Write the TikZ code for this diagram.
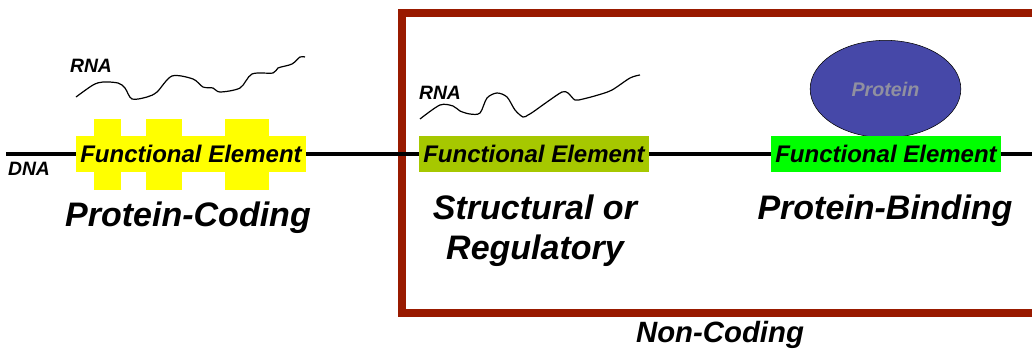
\documentclass[tikz,border=0pt]{standalone}
\usepackage{fontspec}
\setmainfont{Liberation Sans}
\usepackage{tikz}
\usetikzlibrary{shapes.geometric}
\definecolor{elemyellow}{HTML}{FFFF00}
\definecolor{elemlime}{HTML}{A6C800}
\definecolor{elemgreen}{HTML}{00FF00}
\definecolor{framered}{HTML}{991A00}
\definecolor{protblue}{HTML}{4648A8}
\definecolor{protgray}{HTML}{9090A0}

\begin{document}
\begin{tikzpicture}[x=0.75pt, y=-0.75pt,
    elem/.style={fill=#1, minimum width=172.5pt, minimum height=27pt, inner sep=0pt,
                 font=\bfseries\itshape\fontsize{18}{20}\selectfont},
    tag/.style={font=\bfseries\itshape\fontsize{14.5}{16}\selectfont, inner sep=0pt},
    title/.style={font=\bfseries\itshape\fontsize{25.5}{30}\selectfont, align=center, inner sep=0pt},
    rna/.style={line width=0.9pt, line join=round},
]
    \useasboundingbox (0,0) rectangle (1032,351);

    % Non-coding frame
    \draw[framered, line width=6pt] (402,13) rectangle (1060,313);

    % DNA strand
    \coordinate (dnaL) at (6,154);
    \coordinate (dnaR) at (1040,154);
    \draw[line width=3pt] (dnaL) -- (dnaR);
    \node[tag] (dna) at (29,169) {DNA};

    % Protein-coding
    \foreach \a/\b in {94/121, 146/182, 225/269}
        \fill[elemyellow] (\a,119) rectangle (\b,190);
    \node[elem=elemyellow] (coding) at (191,154) {Functional Element};
    \node[tag] (rnaL) at (91,66) {RNA};
    \draw[rna] plot[smooth, tension=0.5] coordinates {(76,97) (93,85) (103,82) (118,83) (125,88)
        (132,99) (147,97) (157,92) (172,76) (193,79) (203,87) (213,88) (220,92) (240,88)
        (252,74) (273,73) (278,68) (292,64) (300,57) (305,57)};
    \node[title] (codingtxt) at (188,218) {Protein-Coding};

    % Structural or regulatory
    \node[elem=elemlime] (struct) at (534,154) {Functional Element};
    \node[tag] (rnaM) at (440,93) {RNA};
    \draw[rna] plot[smooth, tension=0.5] coordinates {(420,119) (440,105) (453,106) (460,111)
        (470,114) (480,113) (487,98) (497,93) (507,97) (515,110) (523,117) (528,115)
        (533,112) (547,102) (562,92) (568,93) (575,100) (583,99) (598,95) (612,90)
        (630,78) (640,75)};
    \node[title] (structtxt) at (535,231) {Structural or\\Regulatory};

    % Protein-binding
    \node[ellipse, draw, fill=protblue, minimum width=113pt, minimum height=73pt,
          font=\bfseries\itshape\fontsize{14.8}{16}\selectfont, text=protgray] (protein) at (885.5,89) {Protein};
    \node[elem=elemgreen] (binding) at (886,154) {Functional Element};
    \node[title] (bindingtxt) at (885,211) {Protein-Binding};

    \node[font=\bfseries\itshape\fontsize{22}{26}\selectfont, inner sep=0pt] (noncoding) at (720,335) {Non-Coding};
\end{tikzpicture}
\end{document}
